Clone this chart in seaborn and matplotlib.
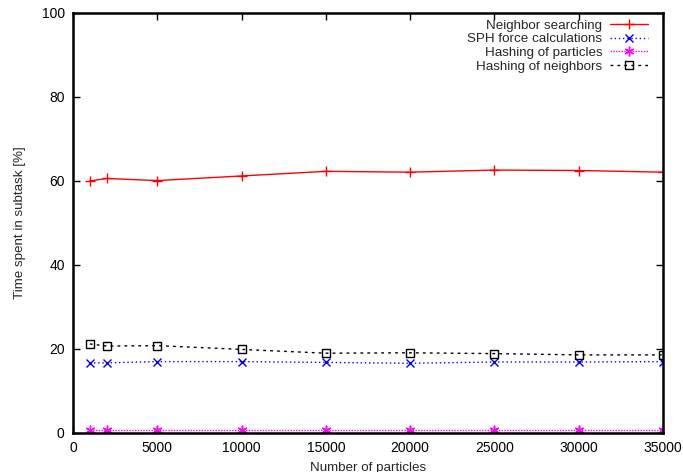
import matplotlib
matplotlib.use("Agg")
import matplotlib.pyplot as plt
import seaborn as sns
import pandas as pd

# Measured share of runtime per subtask
particles = [1000, 2000, 5000, 10000, 15000, 20000, 25000, 30000, 35000]
neighbor_searching = [60.0, 60.6, 60.1, 61.2, 62.3, 62.1, 62.6, 62.5, 62.1]
sph_force = [16.7, 16.7, 17.0, 17.0, 16.8, 16.6, 16.9, 16.9, 17.0]
hashing_particles = [0.7, 0.7, 0.7, 0.7, 0.7, 0.7, 0.7, 0.7, 0.7]
hashing_neighbors = [21.2, 20.7, 20.8, 19.9, 19.0, 19.1, 18.9, 18.6, 18.6]

series = [
    ("Neighbor searching", neighbor_searching, "#ff0000", "-", "+", 7),
    ("SPH force calculations", sph_force, "#0000ff", (0, (1, 2)), "x", 6),
    ("Hashing of particles", hashing_particles, "#ff00ff", (0, (1, 1)), (6, 2, 0), 7),
    ("Hashing of neighbors", hashing_neighbors, "#000000", (0, (2, 3)), "s", 6),
]

sns.set_style("ticks")
plt.rcParams["font.family"] = ["Liberation Sans", "DejaVu Sans"]
plt.rcParams["font.size"] = 9.6

fig = plt.figure(figsize=(6.83, 4.72), dpi=100)
ax = fig.add_axes([73 / 683, 39 / 472, 590 / 683, 420 / 472])

for name, vals, color, ls, marker, ms in series:
    df = pd.DataFrame({"n": particles, "v": vals})
    sns.lineplot(data=df, x="n", y="v", ax=ax, color=color, linewidth=1.0,
                 linestyle=ls, marker=marker, markersize=ms,
                 markerfacecolor="none" if marker == "s" else color,
                 markeredgecolor=color, markeredgewidth=1.0, label=name)

ax.set_xlim(0, 35000)
ax.set_ylim(0, 100)
ax.set_xticks(range(0, 35001, 5000))
ax.set_yticks(range(0, 101, 20))
ax.tick_params(direction="in", top=True, right=True, length=5, width=1,
               labelsize=10, colors="black", pad=6)
for s in ax.spines.values():
    s.set_visible(True)
    s.set_linewidth(1.8)
    s.set_color("black")

ax.set_xlabel("Number of particles", fontsize=9.6, labelpad=5)
ax.set_ylabel("Time spent in subtask [%]", fontsize=9.6, labelpad=11)

leg = ax.legend(loc="upper right", frameon=False, markerfirst=False,
                fontsize=9.6, handlelength=2.8, handletextpad=0.6,
                labelspacing=0.1, borderaxespad=0.3, bbox_to_anchor=(0.99, 1.007))

fig.savefig("out.png", dpi=100)
